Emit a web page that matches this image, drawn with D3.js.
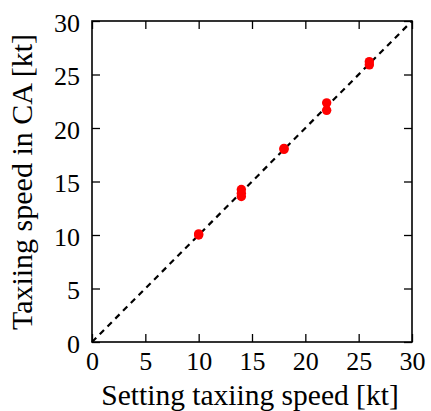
<!DOCTYPE html>
<html><head><meta charset="utf-8">
<script src="https://cdn.jsdelivr.net/npm/d3@7"></script>
<style>body{margin:0;background:#fff}</style>
</head><body>
<svg id="c" width="431" height="411"></svg>
<script>
const setSpeed = [10, 10, 14, 14, 14, 18, 18, 22, 22, 26, 26];
const caSpeed  = [10.1, 10.0, 14.25, 13.9, 13.6, 18.0, 18.1, 22.35, 21.65, 26.2, 25.9];
const ticks = [0, 5, 10, 15, 20, 25, 30];
const xTitle = "Setting taxiing speed [kt]";
const yTitle = "Taxiing speed in CA [kt]";

const svg = d3.select("#c");
const L = 92, R = 412, T = 21, B = 342;
const x = d3.scaleLinear().domain([0, 30]).range([L, R]);
const y = d3.scaleLinear().domain([0, 30]).range([B, T]);
const font = "'Liberation Serif', 'Times New Roman', serif";

// diagonal
svg.append("line")
  .attr("x1", x(0)).attr("y1", y(0)).attr("x2", x(30)).attr("y2", y(30))
  .attr("stroke", "#000").attr("stroke-width", 2.2).attr("stroke-dasharray", "6,5");

// points
svg.append("g").selectAll("circle").data(setSpeed).join("circle")
  .attr("cx", (d) => x(d)).attr("cy", (d, i) => y(caSpeed[i]))
  .attr("r", 4.7).attr("fill", "#ff0000");

function styleAxis(g, hideLabels) {
  g.select(".domain").remove();
  g.selectAll(".tick line").attr("stroke", "#000").attr("stroke-width", 1.3);
  g.selectAll(".tick text").attr("font-family", font).attr("font-size", 26).attr("fill", "#000");
  if (hideLabels) g.selectAll(".tick text").remove();
}
const tl = 8;
svg.append("g").attr("transform", `translate(0,${B})`)
  .call(d3.axisBottom(x).tickValues(ticks).tickSizeInner(-tl).tickSizeOuter(0))
  .call(g => styleAxis(g, false))
  .call(g => g.selectAll(".tick text").attr("dy", null).attr("y", 28));
svg.append("g").attr("transform", `translate(0,${T})`)
  .call(d3.axisTop(x).tickValues(ticks).tickSizeInner(-tl).tickSizeOuter(0))
  .call(g => styleAxis(g, true));
svg.append("g").attr("transform", `translate(${L},0)`)
  .call(d3.axisLeft(y).tickValues(ticks).tickSizeInner(-tl).tickSizeOuter(0))
  .call(g => styleAxis(g, false))
  .call(g => g.selectAll(".tick text").attr("x", -12).attr("dy", null).attr("y", 10));
svg.append("g").attr("transform", `translate(${R},0)`)
  .call(d3.axisRight(y).tickValues(ticks).tickSizeInner(-tl).tickSizeOuter(0))
  .call(g => styleAxis(g, true));

// frame
svg.append("rect").attr("x", L).attr("y", T).attr("width", R - L).attr("height", B - T)
  .attr("fill", "none").attr("stroke", "#000").attr("stroke-width", 1.6);

svg.append("text").attr("x", 250).attr("y", 405).attr("text-anchor", "middle")
  .attr("font-family", font).attr("font-size", 29.5).text(xTitle);
svg.append("text").attr("transform", `translate(32,${182}) rotate(-90)`)
  .attr("text-anchor", "middle").attr("font-family", font).attr("font-size", 30).text(yTitle);
</script>
</body></html>
